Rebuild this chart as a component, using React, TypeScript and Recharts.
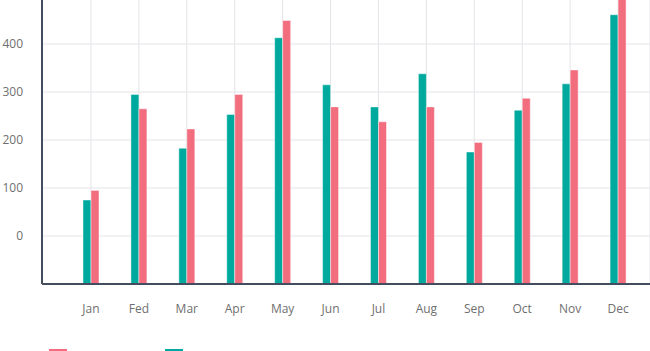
import { BarChart, Bar, XAxis, YAxis, CartesianGrid } from "recharts"

const MONTHS = ["Jan", "Fed", "Mar", "Apr", "May", "Jun", "Jul", "Aug", "Sep", "Oct", "Nov", "Dec"]
const TEAL_VALUES = [75, 295, 183, 253, 413, 315, 269, 338, 175, 262, 317, 461]
const PINK_VALUES = [95, 265, 223, 295, 449, 269, 238, 269, 195, 287, 346, 510]
const Y_TICKS = [0, 100, 200, 300, 400, 500]
const AXIS_FLOOR = -100

const TEAL = "#00a99d"
const PINK = "#f26e7f"
const AXIS_COLOR = "#434d5e"
const FONT = "'Open Sans', sans-serif"

const data = MONTHS.map((month, i) => ({ month, teal: TEAL_VALUES[i], pink: PINK_VALUES[i] }))

// bars rise from the bottom of the axis, not from the 0 tick
const fromFloor = (key: "teal" | "pink") => (d: (typeof data)[number]) => [AXIS_FLOOR, d[key]]

export default function App() {
  return (
    <div style={{ position: "absolute", left: 0, top: -20, width: 650 }}>
      <BarChart width={650} height={380} data={data} margin={{ top: 16, right: 0, bottom: 46, left: 0 }} barSize={8} barGap={0}>
        <CartesianGrid stroke="#e4e4e8" strokeWidth={1} />
        <XAxis
          dataKey="month"
          height={30}
          padding={{ left: 25, right: 8 }}
          axisLine={{ stroke: AXIS_COLOR, strokeWidth: 2 }}
          tickLine={false}
          tickSize={0}
          tickMargin={20}
          tick={{ fill: "#6f6f6f", fontSize: 12, fontFamily: FONT }}
        />
        <YAxis
          width={42}
          domain={[AXIS_FLOOR, 500]}
          ticks={Y_TICKS}
          allowDataOverflow
          axisLine={{ stroke: AXIS_COLOR, strokeWidth: 2 }}
          tickLine={false}
          tickSize={0}
          tickMargin={19}
          tick={{ fill: "#6f6f6f", fontSize: 12, fontFamily: FONT }}
        />
        <Bar dataKey={fromFloor("teal")} name="Teal" fill={TEAL} stroke="#ffffff" strokeOpacity={0.45} strokeWidth={1} isAnimationActive={false} />
        <Bar dataKey={fromFloor("pink")} name="Pink" fill={PINK} stroke="#ffffff" strokeOpacity={0.45} strokeWidth={1} isAnimationActive={false} />
      </BarChart>
      {/* legend swatches sit at the very bottom edge, only their tops show */}
      <div style={{ position: "absolute", top: 369, left: 49, display: "flex" }}>
        <span style={{ width: 18, height: 10, background: PINK, marginRight: 98 }} />
        <span style={{ width: 18, height: 10, background: TEAL }} />
      </div>
    </div>
  )
}
